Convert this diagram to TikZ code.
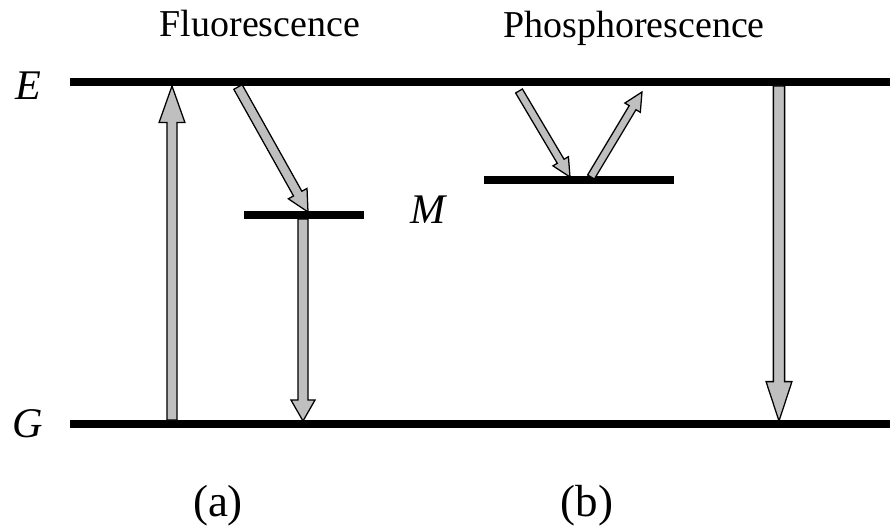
\documentclass[tikz,border=0pt]{standalone}
\usepackage{fontspec}
\setmainfont{Liberation Serif}
\usetikzlibrary{calc}

\tikzset{
  level/.style={line width=6pt},
  blockarrow/.style={draw=black,line width=0.9pt,fill=black!25,line join=miter},
  lbl/.style={font=\fontsize{27}{29}\selectfont,anchor=base},
  sym/.style={font=\fontsize{30}{32}\selectfont\itshape},
  part/.style={font=\fontsize{32}{34}\selectfont}
}
% #1 options, #2 from, #3 to, #4 half shaft, #5 half head, #6 head length
\newcommand\blockarrow[6][]{%
  \coordinate (hb) at ($(#3)!#6!(#2)$);
  \draw[blockarrow,#1] ($(#2)!#4!90:(#3)$) -- ($(hb)!#4!-90:(#2)$)
    -- ($(hb)!#5!-90:(#2)$) -- (#3) -- ($(hb)!#5!90:(#2)$)
    -- ($(hb)!#4!90:(#2)$) -- ($(#2)!#4!-90:(#3)$) -- cycle;}

\begin{document}
\begin{tikzpicture}[x=0.025cm,y=-0.025cm]
  \useasboundingbox (0,0) rectangle (890,532);
  % levels
  \coordinate (E0) at (70,82);   \coordinate (E1) at (890,82);
  \coordinate (G0) at (70,424);  \coordinate (G1) at (890,424);
  \coordinate (M0) at (244,215); \coordinate (M1) at (364,215);
  \coordinate (T0) at (484,180); \coordinate (T1) at (674,180);
  \draw[level] (E0) -- (E1);
  \draw[level] (G0) -- (G1);
  \draw[level] (M0) -- (M1);
  \draw[level] (T0) -- (T1);
  % arrow ends
  \coordinate (a1) at (172,420); \coordinate (a2) at (172,86);
  \coordinate (b1) at (238,87);  \coordinate (b2) at (308,212);
  \coordinate (c1) at (303,219); \coordinate (c2) at (303,421);
  \coordinate (d1) at (519,91);  \coordinate (d2) at (570,177);
  \coordinate (e1) at (591,177); \coordinate (e2) at (642,92);
  \coordinate (f1) at (779,86);  \coordinate (f2) at (779,421);
  \blockarrow{a1}{a2}{3.6pt}{9.2pt}{26pt}
  \blockarrow{b1}{b2}{3.4pt}{7.6pt}{15pt}
  \blockarrow{c1}{c2}{3.6pt}{8.6pt}{15pt}
  \blockarrow{d1}{d2}{2.8pt}{6.4pt}{13pt}
  \blockarrow{e1}{e2}{2.8pt}{6.4pt}{13pt}
  \blockarrow{f1}{f2}{4pt}{9.2pt}{28pt}
  % labels
  \node[lbl] (fl) at (260,37) {Fluorescence};
  \node[lbl] (ph) at (634,38) {Phosphorescence};
  \node[sym] (E) at (28,86) {E};
  \node[sym] (G) at (28,424) {G};
  \node[sym] (M) at (428,210) {M};
  \node[part] (pa) at (218,506) {(a)};
  \node[part] (pb) at (587,506) {(b)};
\end{tikzpicture}
\end{document}
